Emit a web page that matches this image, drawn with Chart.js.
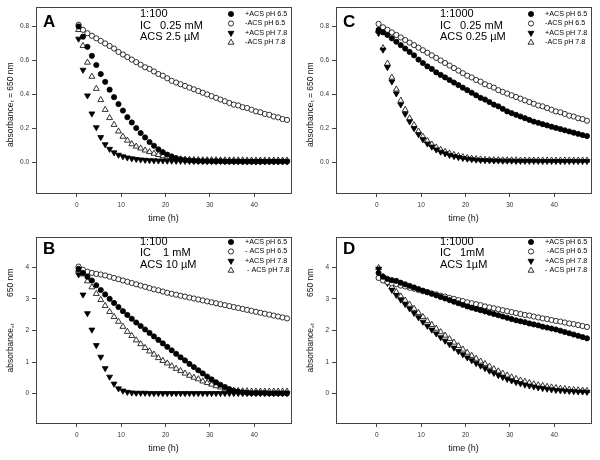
<!DOCTYPE html>
<html>
<head>
<meta charset="utf-8">
<script src="https://cdn.jsdelivr.net/npm/chart.js@4/dist/chart.umd.min.js"></script>
<style>
body { margin: 0; background: #fff; }
#wrap { position: relative; width: 600px; height: 460px; }
#wrap canvas { position: absolute; }
</style>
</head>
<body>
<div id="wrap">
  <canvas id="chartA" width="300" height="230" style="left:0;top:0"></canvas>
  <canvas id="chartC" width="300" height="230" style="left:300px;top:0"></canvas>
  <canvas id="chartB" width="300" height="230" style="left:0;top:230px"></canvas>
  <canvas id="chartD" width="300" height="230" style="left:300px;top:230px"></canvas>
</div>
<script>
// sampling times (h)
const hours = [0.4, 1.4, 2.4, 3.4, 4.4, 5.4, 6.4, 7.4, 8.4, 9.4,
  10.4, 11.4, 12.4, 13.4, 14.4, 15.4, 16.4, 17.4, 18.4, 19.4,
  20.4, 21.4, 22.4, 23.4, 24.4, 25.4, 26.4, 27.4, 28.4, 29.4,
  30.4, 31.4, 32.4, 33.4, 34.4, 35.4, 36.4, 37.4, 38.4, 39.4,
  40.4, 41.4, 42.4, 43.4, 44.4, 45.4, 46.4, 47.4];

// tick labels
const timeTicks = [0, 10, 20, 30, 40];
const absTicksLow = [0, 0.2, 0.4, 0.6, 0.8];
const absTicksHigh = [0, 1, 2, 3, 4];

// Panel A: 1:100, IC 0.25 mM, ACS 2.5 uM
const A_plus65 = [0.80, 0.74, 0.68, 0.627, 0.573, 0.52, 0.474, 0.428, 0.384, 0.343,
  0.305, 0.266, 0.235, 0.202, 0.173, 0.147, 0.12, 0.098, 0.077, 0.06,
  0.046, 0.035, 0.025, 0.018, 0.014, 0.012, 0.01, 0.009, 0.008, 0.008,
  0.007, 0.007, 0.007, 0.006, 0.006, 0.006, 0.006, 0.005, 0.005, 0.005,
  0.005, 0.005, 0.005, 0.005, 0.005, 0.005, 0.005, 0.005];
const A_minus65 = [0.81, 0.78, 0.76, 0.745, 0.73, 0.715, 0.70, 0.685, 0.67, 0.65,
  0.635, 0.62, 0.605, 0.59, 0.575, 0.56, 0.55, 0.535, 0.52, 0.51,
  0.495, 0.48, 0.47, 0.46, 0.45, 0.44, 0.43, 0.42, 0.41, 0.40,
  0.39, 0.38, 0.37, 0.36, 0.35, 0.34, 0.335, 0.325, 0.32, 0.31,
  0.30, 0.295, 0.285, 0.28, 0.27, 0.265, 0.255, 0.25];
const A_plus78 = [0.727, 0.544, 0.393, 0.287, 0.206, 0.148, 0.106, 0.079, 0.058, 0.044,
  0.035, 0.028, 0.023, 0.019, 0.016, 0.014, 0.012, 0.011, 0.01, 0.01,
  0.009, 0.009, 0.008, 0.008, 0.008, 0.007, 0.007, 0.007, 0.007, 0.006,
  0.006, 0.006, 0.006, 0.006, 0.006, 0.005, 0.005, 0.005, 0.005, 0.005,
  0.005, 0.005, 0.005, 0.005, 0.005, 0.005, 0.005, 0.005];
const A_minus78 = [0.78, 0.686, 0.588, 0.505, 0.434, 0.368, 0.31, 0.262, 0.222, 0.183,
  0.152, 0.129, 0.108, 0.094, 0.083, 0.071, 0.062, 0.052, 0.045, 0.038,
  0.032, 0.027, 0.022, 0.019, 0.017, 0.016, 0.015, 0.015, 0.014, 0.014,
  0.014, 0.014, 0.013, 0.013, 0.013, 0.013, 0.013, 0.013, 0.012, 0.012,
  0.012, 0.012, 0.012, 0.012, 0.012, 0.012, 0.012, 0.012];

// Panel C: 1:1000, IC 0.25 mM, ACS 0.25 uM
const C_plus65 = [0.78, 0.765, 0.75, 0.73, 0.71, 0.69, 0.67, 0.65, 0.63, 0.605,
  0.585, 0.565, 0.55, 0.53, 0.515, 0.50, 0.485, 0.47, 0.455, 0.44,
  0.425, 0.41, 0.395, 0.38, 0.37, 0.355, 0.34, 0.33, 0.315, 0.30,
  0.29, 0.28, 0.27, 0.26, 0.25, 0.24, 0.233, 0.225, 0.218, 0.21,
  0.203, 0.196, 0.189, 0.182, 0.175, 0.168, 0.161, 0.155];
const C_minus65 = [0.815, 0.795, 0.78, 0.765, 0.75, 0.735, 0.72, 0.705, 0.69, 0.675,
  0.66, 0.645, 0.63, 0.615, 0.60, 0.585, 0.57, 0.555, 0.54, 0.525,
  0.51, 0.50, 0.485, 0.475, 0.46, 0.45, 0.44, 0.425, 0.415, 0.405,
  0.395, 0.385, 0.375, 0.365, 0.355, 0.345, 0.335, 0.33, 0.32, 0.31,
  0.30, 0.295, 0.285, 0.275, 0.27, 0.26, 0.255, 0.245];
const C_plus78 = [0.76, 0.663, 0.56, 0.475, 0.405, 0.34, 0.285, 0.24, 0.20, 0.165,
  0.135, 0.11, 0.092, 0.075, 0.062, 0.052, 0.043, 0.036, 0.03, 0.025,
  0.021, 0.018, 0.015, 0.013, 0.012, 0.011, 0.01, 0.01, 0.009, 0.009,
  0.009, 0.008, 0.008, 0.008, 0.008, 0.008, 0.007, 0.007, 0.007, 0.007,
  0.007, 0.007, 0.007, 0.007, 0.007, 0.007, 0.007, 0.007];
const C_minus78 = [0.775, 0.673, 0.582, 0.50, 0.43, 0.364, 0.31, 0.26, 0.22, 0.183,
  0.152, 0.127, 0.106, 0.089, 0.075, 0.063, 0.053, 0.045, 0.038, 0.032,
  0.027, 0.023, 0.02, 0.018, 0.016, 0.015, 0.014, 0.014, 0.013, 0.013,
  0.013, 0.013, 0.012, 0.012, 0.012, 0.012, 0.012, 0.012, 0.012, 0.012,
  0.012, 0.012, 0.012, 0.012, 0.012, 0.012, 0.012, 0.012];

// Panel B: 1:100, IC 1 mM, ACS 10 uM
const B_plus65 = [3.95, 3.82, 3.70, 3.58, 3.43, 3.28, 3.14, 3.00, 2.87, 2.74,
  2.61, 2.49, 2.37, 2.25, 2.14, 2.03, 1.92, 1.81, 1.70, 1.59,
  1.48, 1.37, 1.26, 1.15, 1.05, 0.94, 0.84, 0.74, 0.64, 0.54,
  0.45, 0.36, 0.28, 0.21, 0.14, 0.09, 0.06, 0.04, 0.03, 0.02,
  0.02, 0.02, 0.02, 0.01, 0.01, 0.01, 0.01, 0.01];
const B_minus65 = [4.02, 3.92, 3.86, 3.82, 3.79, 3.77, 3.74, 3.70, 3.66, 3.62,
  3.58, 3.54, 3.50, 3.46, 3.42, 3.38, 3.34, 3.30, 3.27, 3.23,
  3.19, 3.16, 3.13, 3.10, 3.07, 3.04, 3.01, 2.98, 2.95, 2.92,
  2.89, 2.86, 2.83, 2.80, 2.77, 2.74, 2.71, 2.68, 2.65, 2.62,
  2.59, 2.56, 2.53, 2.50, 2.47, 2.44, 2.41, 2.38];
const B_plus78 = [3.77, 3.13, 2.54, 2.02, 1.53, 1.16, 0.80, 0.53, 0.31, 0.16,
  0.09, 0.05, 0.03, 0.02, 0.02, 0.02, 0.01, 0.01, 0.01, 0.01,
  0.01, 0.01, 0.01, 0.01, 0.01, 0.01, 0.01, 0.01, 0.01, 0.01,
  0.01, 0.01, 0.01, 0.01, 0.01, 0.01, 0.01, 0.01, 0.01, 0.01,
  0.01, 0.01, 0.01, 0.01, 0.01, 0.01, 0.01, 0.01];
const B_minus78 = [3.92, 3.78, 3.56, 3.37, 3.16, 2.97, 2.78, 2.59, 2.43, 2.28,
  2.12, 1.96, 1.83, 1.69, 1.57, 1.45, 1.34, 1.24, 1.13, 1.04,
  0.96, 0.87, 0.79, 0.72, 0.64, 0.57, 0.51, 0.46, 0.39, 0.34,
  0.29, 0.24, 0.20, 0.16, 0.12, 0.10, 0.09, 0.08, 0.08, 0.07,
  0.07, 0.07, 0.07, 0.07, 0.07, 0.07, 0.07, 0.07];

// Panel D: 1:1000, IC 1 mM, ACS 1 uM
const D_plus65 = [3.82, 3.70, 3.63, 3.59, 3.57, 3.51, 3.46, 3.41, 3.36, 3.31,
  3.26, 3.21, 3.16, 3.11, 3.06, 3.01, 2.96, 2.91, 2.86, 2.81,
  2.76, 2.72, 2.68, 2.64, 2.60, 2.56, 2.52, 2.48, 2.44, 2.40,
  2.36, 2.32, 2.29, 2.26, 2.22, 2.19, 2.16, 2.12, 2.09, 2.06,
  2.03, 1.99, 1.95, 1.91, 1.87, 1.83, 1.79, 1.75];
const D_minus65 = [3.66, 3.58, 3.53, 3.49, 3.46, 3.42, 3.39, 3.35, 3.32, 3.28,
  3.24, 3.21, 3.17, 3.14, 3.10, 3.07, 3.03, 3.00, 2.96, 2.93,
  2.89, 2.86, 2.83, 2.80, 2.76, 2.73, 2.70, 2.67, 2.64, 2.61,
  2.58, 2.55, 2.52, 2.49, 2.47, 2.44, 2.41, 2.38, 2.36, 2.33,
  2.30, 2.28, 2.25, 2.22, 2.20, 2.17, 2.14, 2.11];
const D_plus78 = [3.95, 3.68, 3.50, 3.28, 3.12, 2.97, 2.83, 2.69, 2.55, 2.41,
  2.27, 2.14, 2.02, 1.90, 1.78, 1.67, 1.56, 1.45, 1.34, 1.24,
  1.14, 1.05, 0.96, 0.88, 0.80, 0.72, 0.65, 0.58, 0.52, 0.46,
  0.41, 0.36, 0.32, 0.28, 0.25, 0.22, 0.19, 0.17, 0.15, 0.13,
  0.11, 0.10, 0.09, 0.08, 0.07, 0.06, 0.06, 0.05];
const D_minus78 = [3.98, 3.70, 3.55, 3.38, 3.22, 3.08, 2.95, 2.82, 2.69, 2.56,
  2.43, 2.30, 2.18, 2.06, 1.95, 1.84, 1.73, 1.62, 1.51, 1.40,
  1.30, 1.20, 1.11, 1.02, 0.94, 0.86, 0.78, 0.71, 0.64, 0.58,
  0.52, 0.47, 0.42, 0.38, 0.34, 0.30, 0.27, 0.245, 0.22, 0.20,
  0.18, 0.16, 0.15, 0.13, 0.12, 0.11, 0.10, 0.09];

// text
const notesA = ['1:100', '0.25 mM', 'ACS 2.5 \u00b5M'];
const notesC = ['1:1000', '0.25 mM', 'ACS 0.25 \u00b5M'];
const notesB = ['1:100', ' 1 mM', 'ACS 10 \u00b5M'];
const notesD = ['1:1000', '1mM', 'ACS 1\u00b5M'];
const legendAC = ['+ACS pH 6.5', '-ACS pH 6.5', '+ACS pH 7.8', '-ACS pH 7.8'];
const legendB = ['+ACS pH 6.5', '- ACS pH 6.5', '+ACS pH 7.8', ' - ACS pH 7.8'];
const legendD = ['+ACS pH 6.5', ' -ACS pH 6.5', '+ACS pH 7.8', '- ACS pH 7.8'];
const yTitleLow = 'absorbance\u209c = 650 nm\u00a0\u00a0\u00a0\u00a0';
const yTitleHigh = '\u00a0\u00a0\u00a0\u00a0\u00a0\u00a0\u00a0\u00a0absorbance\u208c\u209c\u00a0\u00a0\u00a0\u00a0\u00a0\u00a0\u00a0\u00a0\u00a0\u00a0\u00a0650 nm';

// marker styles, in series order
const markerStyles = [
    { pointStyle: 'circle', radius: 2.6, fill: '#000', rotation: 0 },
    { pointStyle: 'circle', radius: 2.6, fill: '#fff', rotation: 0 },
    { pointStyle: 'triangle', radius: 3.4, fill: '#000', rotation: 180 },
    { pointStyle: 'triangle', radius: 3.4, fill: '#fff', rotation: 0 }
];

const FONT = '"Liberation Sans", Arial, Helvetica, sans-serif';
Chart.defaults.font.family = FONT;

function drawMarker(ctx, st, x, y) {
    ctx.beginPath();
    if (st.pointStyle === 'circle') {
        ctx.arc(x, y, st.radius, 0, Math.PI * 2);
    } else {
        const rad = st.rotation * Math.PI / 180;
        for (let k = 0; k < 3; k++) {
            const a = rad + k * 2 * Math.PI / 3;
            const px = x + Math.sin(a) * st.radius;
            const py = y - Math.cos(a) * st.radius;
            if (k === 0) ctx.moveTo(px, py); else ctx.lineTo(px, py);
        }
        ctx.closePath();
    }
    ctx.fillStyle = st.fill;
    ctx.fill();
    ctx.lineWidth = 0.8;
    ctx.strokeStyle = '#000';
    ctx.stroke();
}

function makePanel(p) {
    const decor = {
        id: 'decor' + p.letter,
        afterDraw(chart) {
            const ctx = chart.ctx;
            const a = chart.chartArea;
            const s = p.shift;
            ctx.save();
            // frame
            ctx.strokeStyle = '#444';
            ctx.lineWidth = 1;
            ctx.strokeRect(Math.round(a.left) + 0.5, Math.round(a.top) + 0.5,
                Math.round(a.right - a.left), Math.round(a.bottom - a.top));
            ctx.fillStyle = '#000';
            ctx.textBaseline = 'middle';
            ctx.textAlign = 'left';
            // panel letter
            ctx.font = 'bold 17px ' + FONT;
            ctx.fillText(p.letter, 43, 22 + s);
            // conditions
            ctx.font = '11px ' + FONT;
            ctx.fillText(p.notes[0], 140, 14 + s);
            ctx.fillText('IC', 140, 25.5 + s);
            ctx.fillText(p.notes[1], 160, 25.5 + s);
            ctx.fillText(p.notes[2], 140, 37 + s);
            // legend
            ctx.font = '7.2px ' + FONT;
            p.legend.forEach((label, i) => {
                const y = 14 + i * 9.5 + s * 0.8;
                drawMarker(ctx, markerStyles[i], 231, y);
                ctx.fillStyle = '#000';
                ctx.fillText(label, 245, y);
            });
            ctx.restore();
        }
    };

    const datasets = p.series.map((vals, i) => ({
        label: p.legend[i],
        data: hours.map((h, j) => ({ x: h, y: vals[j] })),
        pointStyle: markerStyles[i].pointStyle,
        pointRadius: markerStyles[i].radius,
        pointRotation: markerStyles[i].rotation,
        pointBackgroundColor: markerStyles[i].fill,
        pointBorderColor: '#000',
        pointBorderWidth: 0.8,
        showLine: false
    }));

    return new Chart(document.getElementById(p.canvas), {
        type: 'scatter',
        data: { datasets: datasets },
        options: {
            responsive: false,
            animation: false,
            devicePixelRatio: 1,
            layout: { padding: { left: 0, right: 9, top: 4, bottom: 0 } },
            plugins: { legend: { display: false }, tooltip: { enabled: false } },
            scales: {
                x: {
                    type: 'linear',
                    min: -9.2,
                    max: 48.3,
                    afterBuildTicks: s => { s.ticks = timeTicks.map(v => ({ value: v })); },
                    afterFit: s => { s.height = 37; },
                    border: { display: false },
                    grid: { drawOnChartArea: false, drawTicks: true, tickLength: 4, color: '#444' },
                    ticks: { font: { size: 6.5 }, color: '#333', padding: 4, maxRotation: 0 },
                    title: { display: true, text: 'time (h)', color: '#111',
                        font: { size: 9 }, padding: { top: 0, bottom: 6.5 } }
                },
                y: {
                    type: 'linear',
                    min: p.yMin,
                    max: p.yMax,
                    afterBuildTicks: s => { s.ticks = p.yTicks.map(v => ({ value: v })); },
                    afterFit: s => { s.width = 36; },
                    border: { display: false },
                    grid: { drawOnChartArea: false, drawTicks: true, tickLength: 4, color: '#444' },
                    ticks: { font: { size: 6.5 }, color: '#333', padding: 3,
                        callback: v => v.toFixed(p.decimals) },
                    title: { display: true, text: p.yTitle, color: '#111',
                        font: { size: 8.5 }, padding: { top: 5.5, bottom: 0 } }
                }
            }
        },
        plugins: [decor]
    });
}

makePanel({ canvas: 'chartA', letter: 'A', notes: notesA, legend: legendAC,
    series: [A_plus65, A_minus65, A_plus78, A_minus78],
    yMin: -0.18, yMax: 0.915, yTicks: absTicksLow, decimals: 1, yTitle: yTitleLow, shift: 0 });
makePanel({ canvas: 'chartC', letter: 'C', notes: notesC, legend: legendAC,
    series: [C_plus65, C_minus65, C_plus78, C_minus78],
    yMin: -0.18, yMax: 0.915, yTicks: absTicksLow, decimals: 1, yTitle: yTitleLow, shift: 0 });
makePanel({ canvas: 'chartB', letter: 'B', notes: notesB, legend: legendB,
    series: [B_plus65, B_minus65, B_plus78, B_minus78],
    yMin: -0.93, yMax: 4.96, yTicks: absTicksHigh, decimals: 0, yTitle: yTitleHigh, shift: -2.5 });
makePanel({ canvas: 'chartD', letter: 'D', notes: notesD, legend: legendD,
    series: [D_plus65, D_minus65, D_plus78, D_minus78],
    yMin: -0.93, yMax: 4.96, yTicks: absTicksHigh, decimals: 0, yTitle: yTitleHigh, shift: -2.5 });
</script>
</body>
</html>
